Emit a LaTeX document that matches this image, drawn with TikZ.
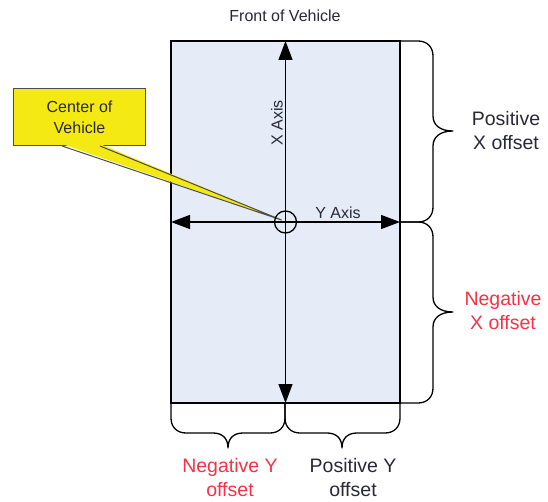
\documentclass[tikz,border=0pt]{standalone}
\usepackage{fontspec}
\setmainfont{Liberation Sans}
\usetikzlibrary{arrows.meta,calc}
\definecolor{bodyfill}{RGB}{229,236,247}
\definecolor{calloutyellow}{RGB}{245,233,20}
\definecolor{labeldark}{RGB}{40,40,55}
\definecolor{labelred}{RGB}{245,50,70}
\begin{document}
\begin{tikzpicture}[x=1pt,y=-1pt,
  small/.style={font=\fontsize{16}{21}\selectfont, text=labeldark, align=center, inner sep=0},
  big/.style={font=\fontsize{19.5}{24}\selectfont, align=center, inner sep=0},
  brace/.style={draw=black, line width=1.3pt, line join=round},
  axis/.style={line width=1.3pt, {Triangle[length=19pt,width=14pt]}-{Triangle[length=19pt,width=14pt]}}
]
\useasboundingbox (0,0) rectangle (548,502);

% vehicle outline
\node[draw, fill=bodyfill, line width=1.3pt, minimum width=229pt, minimum height=362pt,
      inner sep=0, outer sep=0, anchor=north west] (car) at (171,41) {};
\coordinate (o) at (car.center);

% axes
\draw[axis] (car.south) -- (car.north);
\draw[axis] (car.west) -- (car.east);

% callout box and its pointer
\node[draw=black!70, fill=calloutyellow, line width=1pt, minimum width=132pt, minimum height=57pt,
      small, anchor=north west] (callout) at (13,88) {Center of\\Vehicle};
\coordinate (pa) at ($(callout.south west)+(49,0)$);
\coordinate (pb) at ($(callout.south west)+(87,0)$);
\coordinate (tip) at ($(o)+(-4,-2)$);
\fill[calloutyellow] ($(pa)+(0,-2)$) -- (tip) -- ($(pb)+(0,-2)$) -- cycle;
\draw[black!70, line width=1pt, line join=round] (pa) -- (tip) -- (pb);

% origin marker
\node[draw, circle, line width=1.3pt, minimum size=22pt, inner sep=0] (origin) at (o) {};

% braces on the right
\draw[brace] (400,41) -- (418,41) .. controls (427,41) and (433,47) .. (433,56) -- (433,116)
  .. controls (433,125) and (440,131) .. (453,131) .. controls (440,131) and (433,137) .. (433,146)
  -- (433,207) .. controls (433,216) and (427,222) .. (418,222) -- (400,222);
\draw[brace] (400,222) -- (418,222) .. controls (427,222) and (433,228) .. (433,237) -- (433,297)
  .. controls (433,306) and (440,312) .. (453,312) .. controls (440,312) and (433,318) .. (433,327)
  -- (433,388) .. controls (433,397) and (427,403) .. (418,403) -- (400,403);

% braces below
\draw[brace] (171,403) -- (171,418) .. controls (171,427) and (177,433) .. (186,433) -- (213,433)
  .. controls (222,433) and (228,438) .. (228,448) .. controls (228,438) and (234,433) .. (243,433)
  -- (270,433) .. controls (279,433) and (285,427) .. (285,418) -- (285,403);
\draw[brace] (285,403) -- (285,418) .. controls (285,427) and (291,433) .. (300,433) -- (327,433)
  .. controls (336,433) and (342,438) .. (342,448) .. controls (342,438) and (348,433) .. (357,433)
  -- (385,433) .. controls (394,433) and (400,427) .. (400,418) -- (400,403);

% labels
\node[small] (front) at (285,16) {Front of Vehicle};
\node[small, rotate=90] (xaxis) at (277,123) {X Axis};
\node[small] (yaxis) at (338,213) {Y Axis};
\node[big, text=labeldark] (posx) at (506,131) {Positive\\X offset};
\node[big, text=labelred] (negx) at (503,311) {Negative\\X offset};
\node[big, text=labelred] (negy) at (230,478) {Negative Y\\offset};
\node[big, text=labeldark] (posy) at (353,478) {Positive Y\\offset};
\end{tikzpicture}
\end{document}
